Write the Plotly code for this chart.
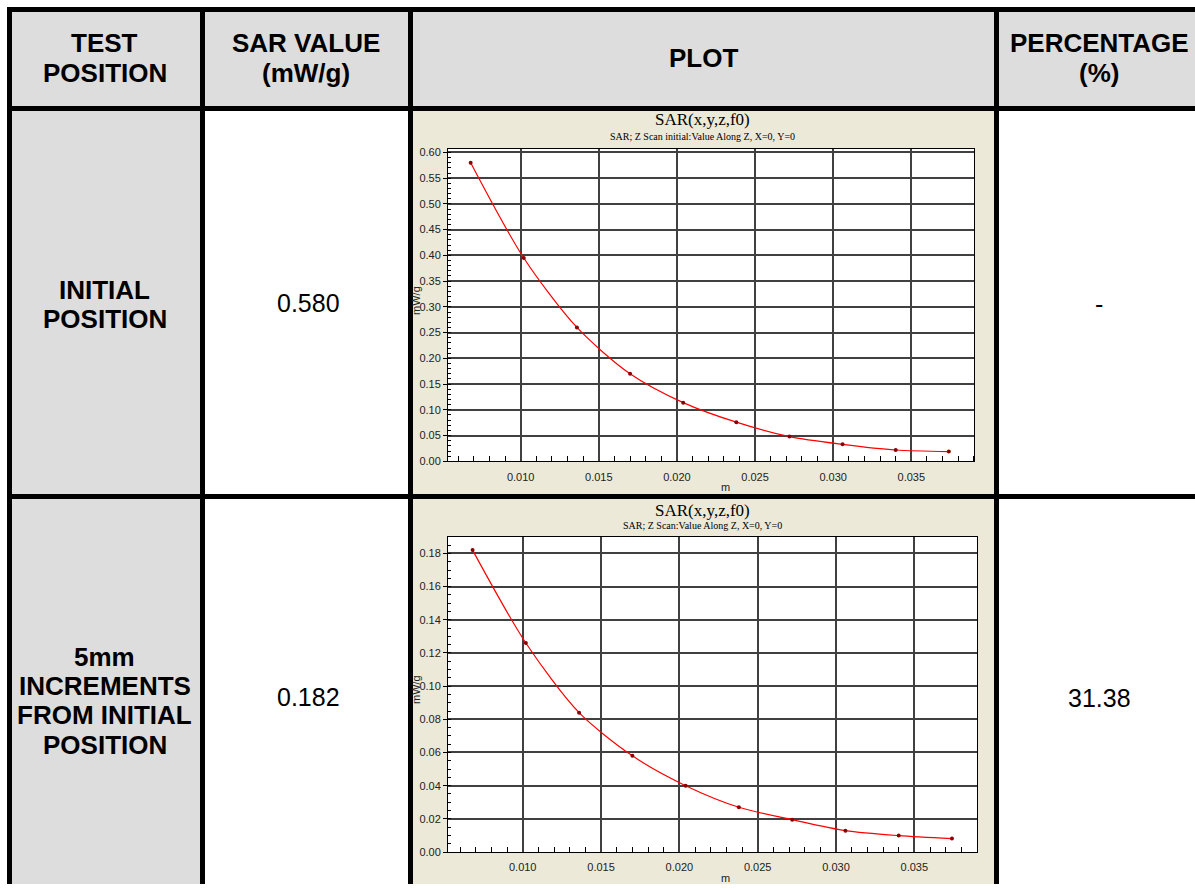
import plotly.graph_objects as go

W, H = 1195, 890

# ---------------- data ----------------
header_labels = ["TEST<br>POSITION", "SAR VALUE<br>(mW/g)", "PLOT", "PERCENTAGE<br>(%)"]
row_labels = ["INITIAL<br>POSITION", "5mm<br>INCREMENTS<br>FROM INITIAL<br>POSITION"]
sar_values = ["0.580", "0.182"]
percentages = ["-", "31.38"]

plot_titles = ["SAR(x,y,z,f0)", "SAR(x,y,z,f0)"]
plot_subtitles = ["SAR; Z Scan initial:Value Along Z, X=0, Y=0",
                  "SAR; Z Scan:Value Along Z, X=0, Y=0"]

z_initial = [0.0068, 0.0102, 0.0136, 0.0170, 0.0204, 0.0238, 0.0272, 0.0306, 0.0340, 0.0374]
sar_initial = [0.580, 0.395, 0.260, 0.170, 0.114, 0.076, 0.048, 0.033, 0.022, 0.019]

z_step = [0.0068, 0.0102, 0.0136, 0.0170, 0.0204, 0.0238, 0.0272, 0.0306, 0.0340, 0.0374]
sar_step = [0.182, 0.126, 0.084, 0.058, 0.040, 0.027, 0.0195, 0.0129, 0.0099, 0.0081]

# ---------------- helpers ----------------
def px(x):
    return x / W

def py(y):
    return 1 - y / H

shapes = []

def rect(x0, y0, x1, y1, color, layer="below"):
    shapes.append(dict(type="rect", xref="paper", yref="paper",
                       x0=px(x0), x1=px(x1), y0=py(y1), y1=py(y0),
                       fillcolor=color, line_width=0, layer=layer))

GRAY = "#dddddd"
BEIGE = "#ECE9D8"

# cell fills
rect(7, 4, W, 109, GRAY)
rect(7, 104, 205, H, GRAY)
rect(408, 104, 999, H, BEIGE)

# white plotting areas
for xr, yr in (("x domain", "y domain"), ("x2 domain", "y2 domain")):
    shapes.append(dict(type="rect", xref=xr, yref=yr, x0=0, x1=1, y0=0, y1=1,
                       fillcolor="white", line_width=0, layer="below"))

# table borders
rect(7, 4, W, 9, "black")
rect(7, 4, 12, H, "black")
rect(7, 104, W, 109, "black")
rect(7, 496, W, 501, "black")
rect(200, 4, 205, H, "black")
rect(408, 4, 413, H, "black")
rect(994, 4, 999, H, "black")

fig = go.Figure()

fig.add_trace(go.Scatter(x=z_initial, y=sar_initial, mode="lines+markers",
                         line=dict(color="#ff0000", width=1.2, shape="spline", smoothing=0.8),
                         marker=dict(color="#8b0000", size=4),
                         xaxis="x", yaxis="y", showlegend=False))
fig.add_trace(go.Scatter(x=z_step, y=sar_step, mode="lines+markers",
                         line=dict(color="#ff0000", width=1.2, shape="spline", smoothing=0.8),
                         marker=dict(color="#8b0000", size=4),
                         xaxis="x2", yaxis="y2", showlegend=False))

tickfont = dict(family="Liberation Sans, Arial, sans-serif", size=11, color="#222222")
GRID = "#404040"

def xaxis(domain, rng):
    return dict(domain=domain, range=rng, dtick=0.005, tick0=0, tickformat=".3f",
                showgrid=True, gridcolor=GRID, gridwidth=2, zeroline=False,
                showline=True, mirror=True, linecolor="black", linewidth=1,
                ticks="", ticklabelstandoff=5, tickfont=tickfont,
                minor=dict(dtick=0.001, tick0=0, ticks="inside", ticklen=5,
                           tickcolor="black", showgrid=False),
                fixedrange=True)

def yaxis(domain, rng, dtick, mdtick):
    return dict(domain=domain, range=rng, dtick=dtick, tick0=0, tickformat=".2f",
                showgrid=True, gridcolor=GRID, gridwidth=2, zeroline=False,
                showline=True, mirror=True, linecolor="black", linewidth=1,
                ticks="outside", ticklen=4, tickcolor="black", tickfont=tickfont,
                minor=dict(dtick=mdtick, tick0=0, ticks="inside", ticklen=3,
                           tickcolor="black", showgrid=False),
                fixedrange=True)

annotations = []

def text(x, y, s, size=24, bold=False, family="Liberation Sans, Arial, sans-serif", angle=0, color="black"):
    annotations.append(dict(xref="paper", yref="paper", x=px(x), y=py(y), text=(f"<b>{s}</b>" if bold else s),
                            showarrow=False, xanchor="center", yanchor="middle", textangle=angle,
                            font=dict(family=family, size=size, color=color)))

def multiline(cx, cy, label, spacing, **kw):
    lines = label.split("<br>")
    n = len(lines)
    for i, ln in enumerate(lines):
        text(cx, cy + (i - (n - 1) / 2) * spacing, ln, **kw)

# header
col_centers = [105, 306, 703, 1099]
for cx, lab in zip(col_centers, header_labels):
    multiline(cx, 55.5, lab, 30, size=26, bold=True)

# rows
for rc, lab in zip([304.5, 705], row_labels):
    multiline(105, rc, lab, 29.5, size=26, bold=True)
for rc, sv, pc in zip([303.5, 701], sar_values, percentages):
    text(308, rc, sv, size=25)
    text(1099, rc + 1, pc, size=25)

# plot titles
serif = "Liberation Serif, Times New Roman, serif"
for (ty, sy, my, xly), t, st in zip([(118, 134.5, 300, 489), (513, 528, 693, 884)], plot_titles, plot_subtitles):
    text(702, ty, t, size=17, family=serif)
    text(702, sy, st, size=10, family=serif)
    text(416, my, "mW/g", size=11, angle=-90, color="#222222")
    text(725, xly, "m", size=11, color="#222222")

fig.update_layout(
    width=W, height=H,
    margin=dict(l=0, r=0, t=0, b=0),
    paper_bgcolor="white", plot_bgcolor="white",
    xaxis=xaxis([px(448), px(974)], [0.00535, 0.03901]),
    yaxis=yaxis([py(463), py(147.3)], [0, 0.607], 0.05, 0.01),
    xaxis2=xaxis([px(448), px(977)], [0.00523, 0.0390]),
    yaxis2=yaxis([py(857.7), py(539.3)], [0, 0.190], 0.02, 0.005),
    shapes=shapes,
    annotations=annotations,
    showlegend=False,
)
fig.update_layout(xaxis2=dict(anchor="y2"), yaxis2=dict(anchor="x2"))

fig.write_html("out.html",
               config={"displayModeBar": False, "staticPlot": True},
               post_script="document.body.style.margin='0';document.body.style.overflow='hidden';")
